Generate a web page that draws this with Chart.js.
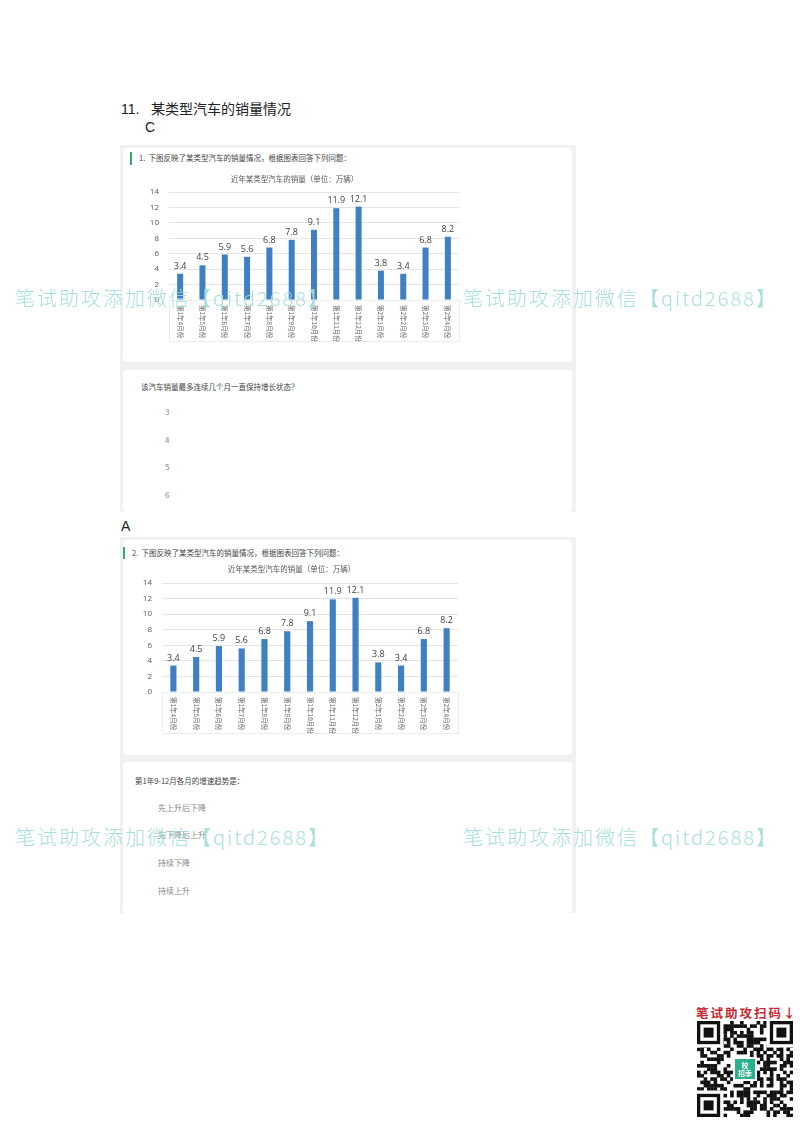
<!DOCTYPE html>
<html>
<head>
<meta charset="utf-8">
<script src="https://cdn.jsdelivr.net/npm/chart.js@4.4.1/dist/chart.umd.min.js"></script>
<style>
  html, body { margin:0; padding:0; background:#fff; }
  body { width:800px; height:1132px; position:relative; overflow:hidden; font-family:"Noto Sans CJK SC","Noto Sans",sans-serif; }
  .abs { position:absolute; }
  .heading { font-family:"Liberation Sans","Noto Sans CJK SC",sans-serif; font-size:14px; color:#222; white-space:nowrap; }
  .panel { background:#f1f1f1; }
  .card { background:#fff; border-radius:4px; }
  .q { font-size:7.5px; color:#444; white-space:nowrap; }
  .opt { font-size:8px; color:#888; white-space:nowrap; }
  .gbar { background:#2fae6e; width:2px; }
  .wm { font-family:"Noto Sans CJK SC",sans-serif; font-size:20px; font-weight:300; color:#9fdcd9; white-space:nowrap; opacity:0.9; letter-spacing:2px; }
  canvas { position:absolute; }
</style>
</head>
<body>
<div class="abs heading" style="left:121px;top:98px;">11.&nbsp;&nbsp;&nbsp;某类型汽车的销量情况</div>
<div class="abs heading" style="left:145px;top:119px;">C</div>

<!-- panel 1 -->
<div class="abs panel" style="left:120px;top:145px;width:456px;height:367px;"></div>
<div class="abs card" style="left:123px;top:148px;width:449px;height:214px;"></div>
<div class="abs card" style="left:123px;top:370px;width:449px;height:142px;"></div>
<div class="abs gbar" style="left:130px;top:152px;height:13px;"></div>
<div class="abs q" style="left:139px;top:152px;">1.&nbsp;&nbsp;下图反映了某类型汽车的销量情况，根据图表回答下列问题：</div>
<canvas id="c1" width="340" height="178" style="left:130px;top:170px;"></canvas>
<div class="abs q" style="left:141px;top:381px;">该汽车销量最多连续几个月一直保持增长状态？</div>
<div class="abs opt" style="left:165px;top:406px;">3</div>
<div class="abs opt" style="left:165px;top:434px;">4</div>
<div class="abs opt" style="left:165px;top:461px;">5</div>
<div class="abs opt" style="left:165px;top:489px;">6</div>

<div class="abs heading" style="left:121px;top:518px;">A</div>

<!-- panel 2 -->
<div class="abs panel" style="left:120px;top:537px;width:456px;height:376px;"></div>
<div class="abs card" style="left:123px;top:540px;width:449px;height:215px;"></div>
<div class="abs card" style="left:123px;top:762px;width:449px;height:151px;"></div>
<div class="abs gbar" style="left:123px;top:547px;height:12px;"></div>
<div class="abs q" style="left:132px;top:547px;">2.&nbsp;&nbsp;下图反映了某类型汽车的销量情况，根据图表回答下列问题：</div>
<canvas id="c2" width="345" height="180" style="left:125px;top:560px;"></canvas>
<div class="abs q" style="left:135px;top:775px;">第1年9-12月各月的增速趋势是：</div>
<div class="abs opt" style="left:158px;top:802px;">先上升后下降</div>
<div class="abs opt" style="left:158px;top:829px;">先下降后上升</div>
<div class="abs opt" style="left:158px;top:857px;">持续下降</div>
<div class="abs opt" style="left:158px;top:885px;">持续上升</div>

<!-- watermarks -->
<div class="abs wm" style="left:15px;top:283px;">笔试助攻添加微信【qitd2688】</div>
<div class="abs wm" style="left:463px;top:283px;">笔试助攻添加微信【qitd2688】</div>
<div class="abs wm" style="left:15px;top:822px;">笔试助攻添加微信【qitd2688】</div>
<div class="abs wm" style="left:463px;top:822px;">笔试助攻添加微信【qitd2688】</div>

<!-- QR block -->
<div class="abs" style="left:696px;top:1003px;font-size:12.5px;font-weight:bold;color:#c8282e;white-space:nowrap;letter-spacing:2px;">笔试助攻扫码↓</div>
<canvas id="qr" width="96" height="96" style="left:697px;top:1021px;"></canvas>

<script>
// ---- data ----
const categories = ["第1年4月份","第1年5月份","第1年6月份","第1年7月份","第1年8月份","第1年9月份","第1年10月份","第1年11月份","第1年12月份","第2年1月份","第2年2月份","第2年3月份","第2年4月份"];
const sales = [3.4, 4.5, 5.9, 5.6, 6.8, 7.8, 9.1, 11.9, 12.1, 3.8, 3.4, 6.8, 8.2];
const chartTitle = "近年某类型汽车的销量（单位：万辆）";
const yTicks = [0, 2, 4, 6, 8, 10, 12, 14];

const valueLabels = {
  id: 'valueLabels',
  afterDatasetsDraw(chart) {
    const ctx = chart.ctx;
    const meta = chart.getDatasetMeta(0);
    ctx.save();
    ctx.font = '9px "Open Sans", "Liberation Sans", sans-serif';
    ctx.fillStyle = '#404040';
    ctx.textAlign = 'center';
    ctx.textBaseline = 'bottom';
    meta.data.forEach((el, i) => {
      ctx.fillText(String(chart.data.datasets[0].data[i]), el.x, el.y - 3);
    });
    ctx.restore();
  }
};

const verticalLabels = {
  id: 'verticalLabels',
  afterDraw(chart) {
    const ctx = chart.ctx;
    const xs = chart.scales.x;
    const area = chart.chartArea;
    ctx.save();
    ctx.strokeStyle = '#ececec';
    ctx.lineWidth = 1;
    ctx.strokeRect(area.left + 0.5, area.bottom + 0.5, area.right - area.left, 41);
    ctx.font = '6.5px "Noto Sans CJK SC", sans-serif';
    ctx.fillStyle = '#666';
    ctx.textAlign = 'left';
    ctx.textBaseline = 'middle';
    chart.data.labels.forEach((lab, i) => {
      const x = xs.getPixelForTick(i);
      ctx.save();
      ctx.translate(x, area.bottom + 5);
      ctx.rotate(Math.PI / 2);
      ctx.fillText(lab, 0, 0);
      ctx.restore();
    });
    ctx.restore();
  }
};

function makeChart(id, yWidth, padRight, titlePadBottom) {
  return new Chart(document.getElementById(id), {
    type: 'bar',
    data: {
      labels: categories,
      datasets: [{ data: sales, backgroundColor: '#3f7fc4', borderWidth: 0,
                   categoryPercentage: 1, barPercentage: 0.27 }]
    },
    options: {
      responsive: false,
      animation: false,
      layout: { padding: { right: padRight, left: 0, top: 0, bottom: 0 } },
      plugins: {
        legend: { display: false },
        tooltip: { enabled: false },
        title: { display: true, text: chartTitle, color: '#555',
                 font: { size: 7.5, family: '"Noto Sans CJK SC", sans-serif', weight: 'normal' },
                 padding: { top: 5, bottom: titlePadBottom } }
      },
      scales: {
        x: {
          grid: { display: false },
          border: { display: false },
          ticks: { color: 'rgba(0,0,0,0)', minRotation: 90, maxRotation: 90, autoSkip: false,
                   font: { size: 6.5 } },
          afterFit(s) { s.height = 48; }
        },
        y: {
          min: 0, max: 14,
          afterBuildTicks(s) { s.ticks = yTicks.map(v => ({ value: v })); },
          grid: { color: '#e4e4e4', drawTicks: false },
          border: { display: false },
          ticks: { color: '#555', padding: 10,
                   font: { size: 8, family: '"Open Sans", "Liberation Sans", sans-serif' } },
          afterFit(s) { s.width = yWidth; }
        }
      }
    },
    plugins: [valueLabels, verticalLabels]
  });
}

makeChart('c1', 39, 11, 8);
makeChart('c2', 37, 12, 9);

// decorative QR-like block
(function () {
  const c = document.getElementById('qr');
  const ctx = c.getContext('2d');
  const n = 29, s = 96 / n;
  ctx.fillStyle = '#fff'; ctx.fillRect(0, 0, 96, 96);
  ctx.fillStyle = '#111';
  let h = 7;
  for (let r = 0; r < n; r++) for (let q = 0; q < n; q++) {
    h = (h * 1103515245 + 12345 + r * 31 + q * 17) % 2147483647;
    if ((h >> 7) % 2 === 0) ctx.fillRect(q * s, r * s, s + 0.3, s + 0.3);
  }
  function finder(x, y) {
    ctx.fillStyle = '#111'; ctx.fillRect(x * s, y * s, 7 * s, 7 * s);
    ctx.fillStyle = '#fff'; ctx.fillRect((x + 1) * s, (y + 1) * s, 5 * s, 5 * s);
    ctx.fillStyle = '#111'; ctx.fillRect((x + 2) * s, (y + 2) * s, 3 * s, 3 * s);
  }
  ctx.fillStyle = '#fff';
  ctx.fillRect(0, 0, 8 * s, 8 * s); ctx.fillRect((n - 8) * s, 0, 8 * s, 8 * s); ctx.fillRect(0, (n - 8) * s, 8 * s, 8 * s);
  finder(0, 0); finder(n - 7, 0); finder(0, n - 7);
  ctx.fillStyle = '#fff'; ctx.fillRect(36, 36, 24, 24);
  ctx.fillStyle = '#2bb08d'; ctx.fillRect(38, 38, 20, 20);
  ctx.fillStyle = '#fff'; ctx.font = 'bold 7px "Noto Sans CJK SC"'; ctx.textAlign = 'center';
  ctx.fillText('校', 48, 47); ctx.fillText('招季', 48, 55);
})();
</script>
</body>
</html>
